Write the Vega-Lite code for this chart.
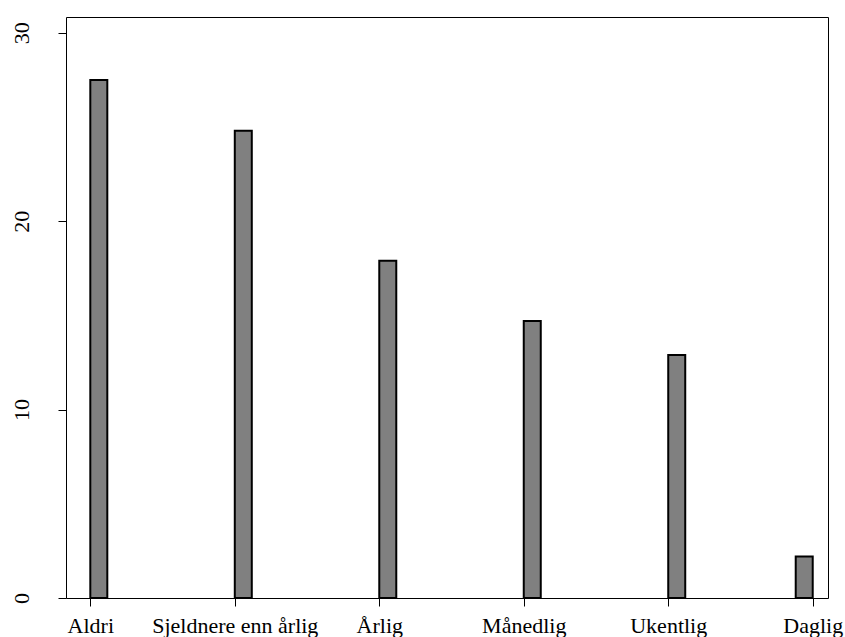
{
  "$schema": "https://vega.github.io/schema/vega-lite/v6.json",
  "width": 762,
  "height": 581,
  "autosize": {"type": "none"},
  "padding": {"left": 66, "top": 17, "right": 17, "bottom": 39},
  "background": "white",
  "config": {
    "view": {"stroke": "black", "strokeWidth": 1},
    "axis": {
      "grid": false,
      "domain": false,
      "tickColor": "black",
      "tickWidth": 1,
      "tickSize": 8,
      "labelFont": "Liberation Serif",
      "labelFontSize": 22,
      "labelColor": "black",
      "title": null
    }
  },
  "data": {
    "values": [
      {"category": "Aldri", "value": 27.5},
      {"category": "Sjeldnere enn årlig", "value": 24.8},
      {"category": "Årlig", "value": 17.9},
      {"category": "Månedlig", "value": 14.7},
      {"category": "Ukentlig", "value": 12.9},
      {"category": "Daglig", "value": 2.2}
    ]
  },
  "encoding": {
    "x": {
      "field": "category",
      "type": "nominal",
      "sort": null,
      "scale": {"type": "point", "padding": 0.137, "align": 0.614},
      "axis": {"labelAngle": 0, "labelPadding": 26, "labelBaseline": "alphabetic", "labelAlign": "center"}
    },
    "y": {
      "field": "value",
      "type": "quantitative",
      "scale": {"domain": [0, 30.84], "nice": false, "zero": true},
      "axis": {"values": [0, 10, 20, 30], "labelAngle": -90, "labelAlign": "center", "labelBaseline": "alphabetic", "labelPadding": 30}
    }
  },
  "layer": [
    {
      "transform": [{"filter": "datum.category !== 'Daglig'"}],
      "mark": {"type": "bar", "width": 17, "xOffset": 8.5, "fill": "#808080", "stroke": "black", "strokeWidth": 2}
    },
    {
      "transform": [{"filter": "datum.category === 'Daglig'"}],
      "mark": {"type": "bar", "width": 17, "xOffset": -8.5, "fill": "#808080", "stroke": "black", "strokeWidth": 2}
    }
  ]
}
